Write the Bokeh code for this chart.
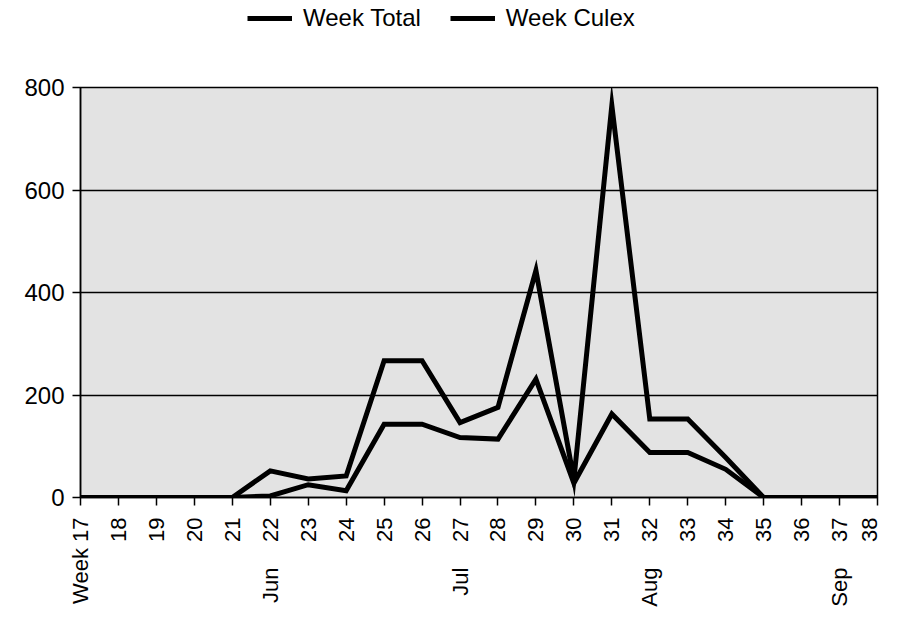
import math
from bokeh.plotting import figure
from bokeh.layouts import column
from bokeh.models import (Range1d, FixedTicker, Legend, LegendItem, LinearAxis)
from bokeh.embed import file_html
from bokeh.resources import INLINE

# ---- data ----
weeks = list(range(17, 39))
week_total = [0, 0, 0, 0, 0, 52, 36, 42, 267, 267, 146, 176, 443, 35, 765, 153, 153, 78, 0, 0, 0, 0]
week_culex = [0, 0, 0, 0, 0, 3, 25, 13, 143, 143, 117, 114, 231, 28, 163, 88, 88, 55, 0, 0, 0, 0]
series_names = ["Week Total", "Week Culex"]
tick_labels = ["Week 17"] + [str(w) for w in weeks[1:]]
month_weeks = [22, 27, 32, 37]
month_names = ["Jun", "Jul", "Aug", "Sep"]
y_ticks = [0, 200, 400, 600, 800]

FONT = "Liberation Sans"
TOP_H = 40

# ---- legend strip (its own small plot; series drawn off its visible range) ----
lg = figure(width=881, height=TOP_H, output_backend="svg", toolbar_location=None,
            x_range=Range1d(0, 1), y_range=Range1d(0, 1),
            min_border_left=0, min_border_right=0, min_border_top=0, min_border_bottom=0)
lg.axis.visible = False
lg.grid.visible = False
lg.outline_line_color = None
lg.background_fill_color = "white"
proxies = [lg.line(weeks, vals, line_color="black", line_width=5)
           for vals in (week_total, week_culex)]
legend = Legend(items=[LegendItem(label=n, renderers=[r]) for n, r in zip(series_names, proxies)],
                orientation="horizontal", location=(167, 8),
                label_text_font=FONT, label_text_font_size="24px", label_text_color="black",
                glyph_width=45, glyph_height=20, label_standoff=11, spacing=29,
                padding=0, margin=0, border_line_alpha=0, background_fill_alpha=0)
lg.add_layout(legend)

# ---- main chart ----
p = figure(width=881, height=611 - TOP_H, output_backend="svg", toolbar_location=None,
           x_range=Range1d(17, 38), y_range=Range1d(0, 800),
           min_border_left=80, min_border_right=4, min_border_top=87 - TOP_H, min_border_bottom=114)

p.background_fill_color = "#e3e3e3"
p.border_fill_color = "white"
p.outline_line_color = "black"
p.outline_line_width = 1.5

p.xgrid.visible = False
p.ygrid.ticker = FixedTicker(ticks=y_ticks)
p.ygrid.grid_line_color = "black"
p.ygrid.grid_line_width = 1.5

xa = p.xaxis[0]
xa.ticker = FixedTicker(ticks=weeks)
xa.major_label_overrides = {w: lab for w, lab in zip(weeks, tick_labels)}
xa.major_label_orientation = math.pi / 2
xa.major_label_text_font = FONT
xa.major_label_text_font_size = "22px"
xa.major_label_text_color = "black"
xa.major_label_standoff = 12
xa.major_tick_out = 8
xa.major_tick_in = 0
xa.minor_tick_line_color = None
xa.axis_line_color = "black"
xa.axis_line_width = 1.5
xa.major_tick_line_color = "black"
xa.major_tick_line_width = 1.5

ma = LinearAxis(ticker=FixedTicker(ticks=month_weeks),
                major_label_overrides={w: m for w, m in zip(month_weeks, month_names)},
                major_label_orientation=math.pi / 2,
                major_label_text_font=FONT, major_label_text_font_size="22px",
                major_label_text_color="black", major_label_standoff=-39,
                major_tick_out=0, major_tick_in=0, axis_line_color=None,
                major_tick_line_color=None, minor_tick_line_color=None)
p.add_layout(ma, "below")

ya = p.yaxis[0]
ya.ticker = FixedTicker(ticks=y_ticks)
ya.major_label_text_font = FONT
ya.major_label_text_font_size = "24px"
ya.major_label_text_color = "black"
ya.major_label_standoff = 8
ya.major_tick_out = 8
ya.major_tick_in = 0
ya.minor_tick_line_color = None
ya.axis_line_color = "black"
ya.axis_line_width = 1.5
ya.major_tick_line_color = "black"
ya.major_tick_line_width = 1.5

p.line(weeks, week_total, line_color="black", line_width=5, line_join="miter")
p.line(weeks, week_culex, line_color="black", line_width=5, line_join="miter")

layout = column(lg, p, spacing=0)
open("out.html", "w").write(file_html(layout, INLINE))
